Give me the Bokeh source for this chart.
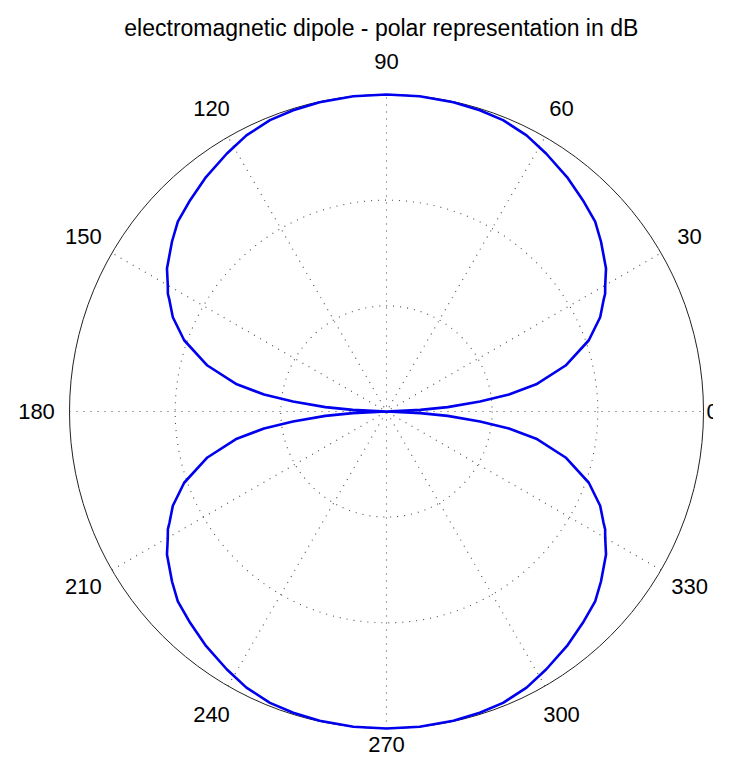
import numpy as np
from bokeh.plotting import figure
from bokeh.models import Range1d
from bokeh.core.properties import value
from bokeh.embed import file_html
from bokeh.resources import INLINE

# ---------------- data ----------------
title_text = "electromagnetic dipole  - polar representation in dB"

# one quadrant of the (symmetric) radiation pattern, angle from the dipole axis
angle_deg = [0, 1.8, 2.8, 4.1, 6.1, 7.9, 10.3, 14.4, 19.4, 23.8, 27.2, 28.3,
             30, 33.1, 38.4, 42.3, 47.1, 52.4, 58.2, 63.1, 68.2, 72.8, 77.8,
             84, 90]
gain_db = [-30, -30, -26.8, -24.2, -21.1, -18.3, -15.6, -12.5, -9.7, -7.9,
           -6.9, -6.5, -6.1, -5.2, -4.1, -3.3, -2.7, -2.0, -1.3, -0.7, -0.3,
           -0.15, -0.05, 0, 0]

db_floor = -30          # centre of the plot
db_top = 0              # outer circle
ring_db = [-20, -10]    # dotted rings
spoke_deg = [0, 30, 60, 90, 120, 150]
tick_deg = [0, 30, 60, 90, 120, 150, 180, 210, 240, 270, 300, 330]
tick_labels = ["0", "30", "60", "90", "120", "150", "180", "210", "240",
               "270", "300", "330"]

# ---------------- build geometry ----------------
def to_r(db):
    return np.clip((np.asarray(db, float) - db_floor) / (db_top - db_floor), 0, None)

q = np.array(angle_deg, float)
rq = to_r(gain_db)
theta = np.concatenate([q, 180 - q[::-1], 180 + q, 360 - q[::-1]])
rr = np.concatenate([rq, rq[::-1], rq, rq[::-1]])
th = np.deg2rad(theta)
cx = rr * np.cos(th)
cy = rr * np.sin(th)

W, H = 713, 758
PX = 317.0              # pixels per unit radius
CXP, CYP = 386.0, 411.0 # centre in canvas pixels
p = figure(width=W, height=H, output_backend="svg", toolbar_location=None,
           x_range=Range1d(-CXP / PX, (W - CXP) / PX),
           y_range=Range1d(-(H - CYP) / PX, CYP / PX),
           x_axis_type=None, y_axis_type=None, min_border=0)
p.outline_line_color = None
p.background_fill_color = "white"
p.border_fill_color = "white"

# dotted rings
ring_r = [float(to_r(d)) for d in ring_db]
p.circle(x=[0] * len(ring_r), y=[0] * len(ring_r), radius=ring_r,
         fill_color=None, line_color="#4d4d4d", line_width=1.1, line_dash="1 6")

# dotted spokes through the centre
sp = np.deg2rad(spoke_deg)
p.segment(x0=-np.cos(sp), y0=-np.sin(sp), x1=np.cos(sp), y1=np.sin(sp),
          line_color="#4d4d4d", line_width=1.1, line_dash="1 6")

# outer circle
p.circle(x=[0], y=[0], radius=[float(to_r(db_top))], fill_color=None,
         line_color="#222222", line_width=1)

# pattern
p.line(cx, cy, line_color="#0000ee", line_width=2.6)

# angle labels
td = np.deg2rad(tick_deg)
lr = np.full(len(tick_deg), 350.0 / PX)
lx = lr * np.cos(td)
ly = lr * np.sin(td)
align = ["center"] * len(tick_deg)
i0 = tick_deg.index(0)
lx[i0] = (W - 7 - CXP) / PX        # sits at the right edge, cut as in the reference
align[i0] = "left"
i270 = tick_deg.index(270)
ly[i270] = -(744 - CYP) / PX       # keep fully inside the canvas
p.text(x=lx, y=ly, text=tick_labels, text_align=align,
       text_font=value("Liberation Sans"), text_font_size="22px",
       text_baseline="middle", text_color="black")

# title
p.text(x=[(384 - CXP) / PX], y=[(CYP - 27.7) / PX], text=[title_text],
       text_font=value("Liberation Sans"), text_font_size="23px",
       text_align="center", text_baseline="alphabetic", text_color="black")

open("out.html", "w").write(file_html(p, INLINE))
